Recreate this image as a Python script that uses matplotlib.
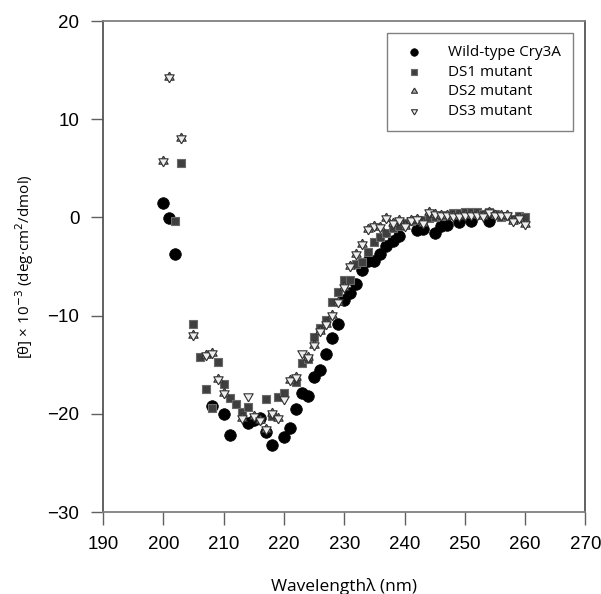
import matplotlib
matplotlib.use('Agg')
import matplotlib.pyplot as plt

# wild-type Cry3A
wt_x = [200, 201, 202, 208, 210, 211, 214, 215, 216, 217, 218, 220, 221, 222, 223, 224,
        225, 226, 227, 228, 229, 230, 231, 232, 233, 234, 235, 236, 237, 238, 239, 242,
        243, 245, 246, 247, 249, 251, 254]
wt_y = [1.5, -0.1, -3.7, -19.2, -20.0, -22.2, -20.9, -20.6, -20.4, -21.9, -23.2, -22.4,
        -21.4, -19.5, -17.9, -18.2, -16.2, -15.5, -13.9, -12.3, -10.9, -8.4, -7.7, -6.8,
        -5.4, -4.4, -4.4, -3.7, -2.9, -2.4, -1.9, -1.3, -1.2, -1.6, -0.9, -0.8, -0.5,
        -0.4, -0.4]

# DS1 mutant
ds1_x = [202, 203, 205, 206, 207, 208, 209, 210, 211, 212, 213, 214, 217, 218, 219, 220,
         222, 223, 224, 225, 226, 227, 228, 229, 230, 231, 232, 233, 234, 235, 236, 237,
         238, 239, 240, 241, 242, 243, 244, 245, 246, 247, 248, 249, 250, 251, 252, 253,
         254, 255, 256, 257, 258, 259, 260]
ds1_y = [-0.4, 5.5, -10.9, -14.2, -17.5, -19.4, -14.7, -17.0, -18.4, -19.0, -19.8, -19.3,
         -18.5, -20.2, -18.3, -17.9, -16.8, -14.8, -14.4, -12.2, -11.3, -10.4, -8.6, -7.6,
         -6.4, -6.4, -4.7, -4.5, -3.5, -2.5, -2.0, -1.6, -1.1, -0.9, -0.6, -0.4, -0.3,
         -0.3, -0.1, 0.0, 0.1, 0.2, 0.4, 0.5, 0.6, 0.6, 0.6, 0.3, 0.6, 0.3, 0.0, 0.1,
         -0.2, 0.1, 0.0]

# DS3 mutant
ds3_x = [200, 201, 203, 205, 207, 208, 209, 210, 213, 214, 215, 216, 217, 218, 219, 220,
         221, 222, 223, 224, 225, 226, 227, 228, 229, 230, 231, 232, 233, 234, 235, 236,
         237, 238, 239, 240, 241, 242, 243, 244, 245, 246, 247, 248, 249, 250, 251, 252,
         253, 254, 255, 256, 257, 258, 259, 260]
ds3_y = [5.7, 14.3, 8.1, -12.0, -14.0, -13.8, -16.5, -17.9, -20.4, -18.2, -20.2, -20.6,
         -21.5, -19.9, -20.4, -18.5, -16.6, -16.2, -13.8, -14.2, -13.0, -11.6, -10.9,
         -9.9, -8.6, -7.1, -4.9, -3.7, -2.7, -1.2, -0.9, -1.0, -0.1, -0.6, -0.3, -0.9,
         -0.3, -0.2, -0.6, 0.6, 0.3, 0.2, 0.2, 0.1, 0.1, 0.2, 0.2, 0.2, 0.1, 0.6, 0.2,
         0.2, 0.2, -0.4, -0.1, -0.7]

# DS2 mutant (sits on top of DS3 almost everywhere)
skip = [214, 220, 223]
ds2_x = [x for x in ds3_x if x not in skip]
ds2_y = [y for x, y in zip(ds3_x, ds3_y) if x not in skip]

# triangles centred on their centroid so up+down overlap as a star
tri_up = [(0, 1), (-0.866, -0.5), (0.866, -0.5), (0, 1)]
tri_dn = [(0, -1), (-0.866, 0.5), (0.866, 0.5), (0, -1)]

fig = plt.figure(figsize=(6.01, 5.94), dpi=100)
ax = fig.add_axes([0.1714, 0.138, 0.8028, 0.8266])

ax.scatter(wt_x, wt_y, s=70, marker='o', c='black', edgecolors='black', linewidths=0.5,
           label='Wild-type Cry3A', zorder=3)
ax.scatter(ds1_x, ds1_y, s=40, marker='s', c='#3f3f3f', edgecolors='#6a6a6a', linewidths=0.8,
           label='DS1 mutant', zorder=4)
ax.scatter(ds2_x, ds2_y, s=60, marker=tri_up, c='#a8a8a8', edgecolors='#303030', linewidths=0.8,
           label='DS2 mutant', zorder=5)
ax.scatter(ds3_x, ds3_y, s=60, marker=tri_dn, c='#eeeeee', edgecolors='#303030', linewidths=0.8,
           label='DS3 mutant', zorder=6)

ax.set_xlim(190, 270)
ax.set_ylim(-30, 20)
ax.set_xticks(range(190, 271, 10))
ax.set_yticks(range(-30, 21, 10))
for s in ax.spines.values():
    s.set_color('#808080')
    s.set_linewidth(1.3)
ax.spines['left'].set_color('#555555')
ax.spines['right'].set_color('#555555')
ax.tick_params(direction='out', length=9, width=1, color='#606060', pad=8,
               labelsize=13.5)
for lab in ax.get_xticklabels() + ax.get_yticklabels():
    lab.set_family('Liberation Sans')

ax.set_xlabel('Wavelength\u03bb (nm)', family='Open Sans', fontsize=12.5, labelpad=18)
ax.set_ylabel('[\u03b8] \u00d7 10$^{-3}$ (deg\u00b7cm$^2$/dmol)', family='Open Sans',
              fontsize=11, labelpad=8)

leg = ax.legend(loc='upper right', bbox_to_anchor=(0.983, 0.985), frameon=True, fancybox=False,
                prop={'family': 'Open Sans', 'size': 11}, markerscale=0.65,
                borderpad=0.8, labelspacing=0.3, handletextpad=1.2, borderaxespad=0.3)
leg.get_frame().set_edgecolor('#606060')
leg.get_frame().set_linewidth(1.0)

fig.savefig('out.png', dpi=100)
